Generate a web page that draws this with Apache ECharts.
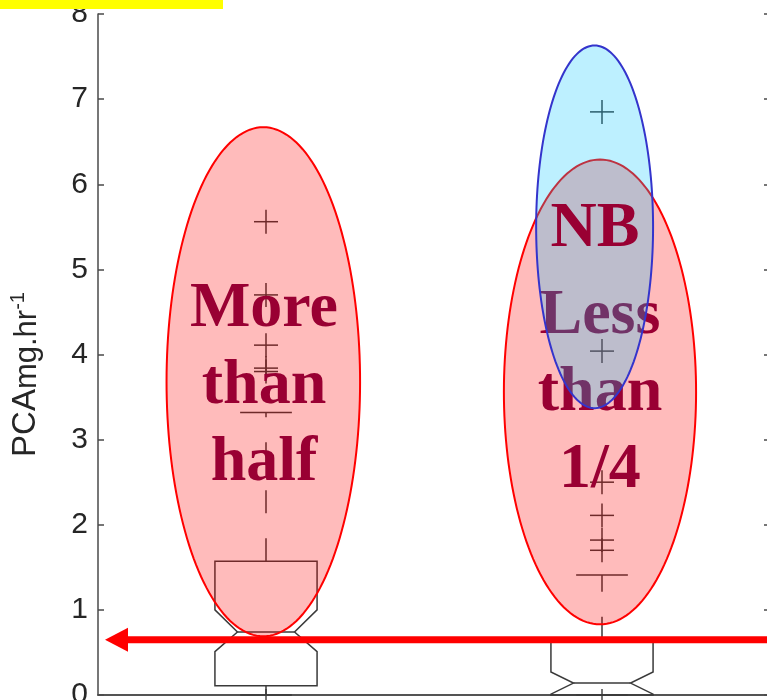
<!DOCTYPE html>
<html>
<head>
<meta charset="utf-8">
<script src="https://cdn.jsdelivr.net/npm/echarts@6/dist/echarts.min.js"></script>
<style>
html,body{margin:0;padding:0;background:#fff;}
#chart{width:767px;height:700px;}
</style>
</head>
<body>
<div id="chart"></div>
<script>
// ---- data ----
const categories = ['1', '2'];
const whiskerLow  = [0.00, 0.00];
const q1          = [0.11, 0.00];
const notchLow    = [0.51, 0.01];
const median      = [0.74, 0.14];
const notchHigh   = [1.00, 0.27];
const q3          = [1.57, 0.65];
const whiskerHigh = [3.32, 1.41];
const outliers1   = [5.56, 4.70, 4.11, 3.84, 3.80];
const outliers2   = [6.85, 4.04, 2.50, 2.11, 1.82, 1.70];
const yMin = 0, yMax = 8, yStep = 1;

// ---- annotations (in data units) ----
const redEllipseCat    = [0, 1];
const redEllipseCenter = [3.68, 3.56];
const redEllipseHalfH  = [2.99, 2.73];
const blueEllipseCat    = [1];
const blueEllipseCenter = [5.50];
const blueEllipseHalfH  = [2.13];
const noteText   = ['More\nthan\nhalf', 'Less\nthan\n1/4'];
const noteCat    = [0, 1];
const noteCenter = [3.63, 3.54];
const nbText   = ['NB'];
const nbCat    = [1];
const nbCenter = [5.47];
const arrowLevel = [0.65];

const chart = echarts.init(document.getElementById('chart'));

const AX = '#4a4a4a';
const BOX_HALF = 0.152, NOTCH_HALF = 0.085, CAP_HALF = 0.077;
const RED_RX = [0.288, 0.286], RED_DX = [-0.008, -0.006];
const BLUE_RX = [0.174], BLUE_DX = [-0.022];
const NOTE_DX = [-0.006, -0.006], NB_DX = [-0.021];

function ellipsePoints(cx, cy, rx, ry) {
  const pts = [];
  for (let k = 0; k < 180; k++) {
    const t = k / 180 * Math.PI * 2;
    pts.push([cx + rx * Math.cos(t), cy + ry * Math.sin(t)]);
  }
  return pts;
}

const boxData = categories.map((c, i) => [i, whiskerLow[i], q1[i], notchLow[i], median[i], notchHigh[i], q3[i], whiskerHigh[i]]);
const outlierData = outliers1.map(v => [0, v]).concat(outliers2.map(v => [1, v]));

const lineStyle = { stroke: '#3a3a3a', lineWidth: 1.5, fill: null };

function renderBox(params, api) {
  const i = api.value(0);
  const band = api.size([1, 0])[0];
  const x = api.coord([i, 0])[0];
  const y = v => api.coord([i, api.value(v)])[1];
  const L = x - band * BOX_HALF, R = x + band * BOX_HALF;
  const Ln = x - band * NOTCH_HALF, Rn = x + band * NOTCH_HALF;
  const cap = band * CAP_HALF;
  const yWL = y(1), yQ1 = y(2), yNL = y(3), yMed = y(4), yNH = y(5), yQ3 = y(6), yWH = y(7);
  const pts = [[L, yQ1], [L, yNL], [Ln, yMed], [L, yNH], [L, yQ3], [R, yQ3], [R, yNH], [Rn, yMed], [R, yNL], [R, yQ1]];
  return {
    type: 'group',
    children: [
      { type: 'polygon', shape: { points: pts }, style: lineStyle },
      { type: 'line', shape: { x1: Ln, y1: yMed, x2: Rn, y2: yMed }, style: lineStyle },
      { type: 'line', shape: { x1: x, y1: yQ3, x2: x, y2: yWH }, style: Object.assign({ lineDash: [23, 25] }, lineStyle) },
      { type: 'line', shape: { x1: x, y1: yQ1, x2: x, y2: yWL }, style: Object.assign({ lineDash: [23, 25] }, lineStyle) },
      { type: 'line', shape: { x1: x - cap, y1: yWH, x2: x + cap, y2: yWH }, style: lineStyle },
      { type: 'line', shape: { x1: x - cap, y1: yWL, x2: x + cap, y2: yWL }, style: lineStyle }
    ]
  };
}

function renderOutlier(params, api) {
  const p = api.coord([api.value(0), api.value(1)]);
  const s = 12;
  return {
    type: 'group',
    children: [
      { type: 'line', shape: { x1: p[0] - s, y1: p[1], x2: p[0] + s, y2: p[1] }, style: lineStyle },
      { type: 'line', shape: { x1: p[0], y1: p[1] - s, x2: p[0], y2: p[1] + s }, style: lineStyle }
    ]
  };
}

function ellipseRenderer(rxArr, dxArr, fill, stroke) {
  return function (params, api) {
    const idx = params.dataIndex;
    const band = api.size([1, 0])[0];
    const c = api.coord([api.value(0), api.value(1)]);
    const ry = api.size([0, api.value(2)])[1];
    const cx = c[0] + dxArr[idx] * band;
    const rx = rxArr[idx] * band;
    return {
      type: 'polygon',
      shape: { points: ellipsePoints(cx, c[1], rx, ry) },
      style: { fill: fill, stroke: stroke, lineWidth: 2 }
    };
  };
}

function textRenderer(textArr, dxArr) {
  return function (params, api) {
    const idx = params.dataIndex;
    const band = api.size([1, 0])[0];
    const c = api.coord([api.value(0), api.value(1)]);
    return {
      type: 'text',
      style: {
        text: textArr[idx],
        x: c[0] + dxArr[idx] * band,
        y: c[1],
        fill: '#990033',
        fontSize: 64,
        fontWeight: 'bold',
        fontFamily: '"Liberation Serif", "Times New Roman", serif',
        align: 'center',
        verticalAlign: 'middle',
        lineHeight: 77
      }
    };
  };
}

function renderArrow(params, api) {
  const cs = params.coordSys;
  const y = api.coord([0, api.value(1)])[1];
  const tip = cs.x + 7, back = tip + 23, end = cs.x + cs.width;
  return {
    type: 'group',
    children: [
      { type: 'line', shape: { x1: back - 2, y1: y, x2: end, y2: y }, style: { stroke: '#ff0000', lineWidth: 7 } },
      { type: 'polygon', shape: { points: [[tip, y], [back, y - 12], [back, y + 12]] }, style: { fill: '#ff0000' } }
    ]
  };
}

const axisCommon = {
  axisLine: { show: true, lineStyle: { color: AX, width: 1.5 } },
  axisTick: { show: true, inside: true, length: 6, lineStyle: { color: AX, width: 1.5 } },
  splitLine: { show: false }
};

const FONT = '"Liberation Sans", Arial, sans-serif';

const option = {
  animation: false,
  backgroundColor: '#ffffff',
  graphic: [
    { type: 'rect', left: 0, top: 0, shape: { width: 223, height: 9 }, style: { fill: '#ffff00' }, z: 100 }
  ],
  grid: { left: 98, top: 14, width: 672, height: 681, containLabel: false, outerBoundsMode: 'none' },
  xAxis: [
    Object.assign({ type: 'category', data: categories, position: 'bottom', boundaryGap: true,
      axisLabel: { show: false } }, axisCommon, { axisTick: Object.assign({ alignWithLabel: true }, axisCommon.axisTick) }),
    Object.assign({ type: 'category', data: categories, position: 'top', boundaryGap: true,
      axisLabel: { show: false } }, axisCommon, { axisTick: Object.assign({ alignWithLabel: true }, axisCommon.axisTick) })
  ],
  yAxis: [
    Object.assign({
      type: 'value', min: yMin, max: yMax, interval: yStep, position: 'left',
      name: '{a|PCA}{b|mg.hr}{c|-1}',
      nameLocation: 'middle', nameGap: 54, nameRotate: 90,
      nameTextStyle: {
        color: '#262626', fontFamily: FONT, padding: [0, 40, 0, 0],
        rich: {
          a: { fontSize: 33, color: '#262626', fontFamily: FONT },
          b: { fontSize: 31, color: '#262626', fontFamily: FONT, padding: [2, 0, 0, 0] },
          c: { fontSize: 20, color: '#262626', fontFamily: FONT, padding: [0, 0, 16, 0] }
        }
      },
      axisLabel: { show: true, fontSize: 30, color: '#262626', margin: 10, fontFamily: FONT }
    }, axisCommon),
    Object.assign({ type: 'value', min: yMin, max: yMax, interval: yStep, position: 'right',
      axisLabel: { show: false } }, axisCommon)
  ],
  series: [
    { type: 'custom', name: 'box', z: 2, renderItem: renderBox,
      encode: { x: 0, y: [1, 2, 3, 4, 5, 6, 7] }, data: boxData, silent: true },
    { type: 'custom', name: 'outliers', z: 2, renderItem: renderOutlier,
      encode: { x: 0, y: 1 }, data: outlierData, silent: true },
    { type: 'custom', name: 'redEllipses', z: 3, renderItem: ellipseRenderer(RED_RX, RED_DX, 'rgba(255,0,0,0.267)', '#ff0000'),
      encode: { x: 0, y: 1 }, data: redEllipseCat.map((c, i) => [c, redEllipseCenter[i], redEllipseHalfH[i]]), silent: true },
    { type: 'custom', name: 'notes', z: 4, renderItem: textRenderer(noteText, NOTE_DX),
      encode: { x: 0, y: 1 }, data: noteCat.map((c, i) => [c, noteCenter[i]]), silent: true },
    { type: 'custom', name: 'blueEllipse', z: 5, renderItem: ellipseRenderer(BLUE_RX, BLUE_DX, 'rgba(0,197,255,0.26)', '#3434cc'),
      encode: { x: 0, y: 1 }, data: blueEllipseCat.map((c, i) => [c, blueEllipseCenter[i], blueEllipseHalfH[i]]), silent: true },
    { type: 'custom', name: 'nb', z: 6, renderItem: textRenderer(nbText, NB_DX),
      encode: { x: 0, y: 1 }, data: nbCat.map((c, i) => [c, nbCenter[i]]), silent: true },
    { type: 'custom', name: 'arrow', z: 7, renderItem: renderArrow,
      encode: { x: 0, y: 1 }, data: arrowLevel.map(v => [0, v]), silent: true }
  ]
};
chart.setOption(option);
</script>
</body>
</html>
